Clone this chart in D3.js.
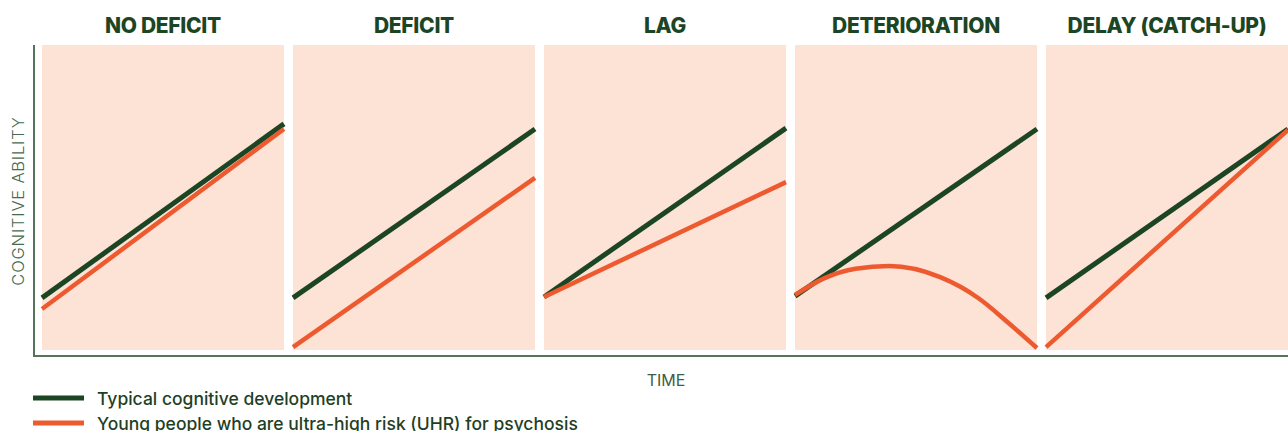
<!DOCTYPE html>
<html>
<head>
<meta charset="utf-8">
<script src="https://cdn.jsdelivr.net/npm/d3@7"></script>
<style>
  body { margin: 0; background: #fff; }
  svg { display: block; }
</style>
</head>
<body>
<svg id="chart" width="1288" height="431"></svg>
<script>
// panel titles
const panels = ["NO DEFICIT", "DEFICIT", "LAG", "DETERIORATION", "DELAY (CATCH-UP)"]

// time (0..1) and cognitive ability (0..100)
const typical = [
    [[0, 16.7], [1, 74.7]],
    [[0, 16.7], [1, 73]],
    [[0, 17], [1, 73.3]],
    [[0, 17.3], [1, 73]],
    [[0, 16.7], [1, 73]]
]
const uhr = [
    [[0, 13], [1, 73]],
    [[0, 0.3], [1, 56.7]],
    [[0, 17], [1, 55.3]],
    [[0, 17.7], [0.12, 23.2], [0.25, 26.4], [0.39, 27.3], [0.6, 23.6], [0.76, 16.5], [0.88, 8.5], [1, 0]],
    [[0, 0.3], [1, 72.7]]
]

const legendLabels = ["Typical cognitive development", "Young people who are ultra-high risk (UHR) for psychosis"]

const green = "#1b4523"
const red = "#ee5a30"
const peach = "#fde2d6"

let svg = d3.select("#chart")

let panelX = d3.scaleBand()
    .domain(panels)
    .range([42, 1288])
    .paddingInner(0.036)
    .paddingOuter(0)

let y = d3.scaleLinear().domain([0, 100]).range([348, 48])

let line = d3.line()
    .x(d => d.px)
    .y(d => y(d[1]))
    .curve(d3.curveMonotoneX)

// panel backgrounds
svg.selectAll("rect.panel")
    .data(panels)
    .enter()
    .append("rect")
    .attr("class", "panel")
    .attr("x", d => panelX(d))
    .attr("y", 45)
    .attr("width", panelX.bandwidth())
    .attr("height", 305)
    .style("fill", peach)

// titles
svg.selectAll("text.title")
    .data(panels)
    .enter()
    .append("text")
    .attr("class", "title")
    .attr("x", d => panelX(d) + panelX.bandwidth() / 2)
    .attr("y", 33)
    .attr("text-anchor", "middle")
    .style("font-family", "Inter, 'Noto Sans', sans-serif")
    .style("font-weight", 800)
    .style("font-size", "21px")
    .style("letter-spacing", "-0.3px")
    .style("fill", green)
    .text(d => d)

// lines per panel
panels.forEach(function (p, i) {
    let x = d3.scaleLinear().domain([0, 1]).range([panelX(p), panelX(p) + panelX.bandwidth()])
    let g = svg.append("g")
    let addPx = pts => pts.map(d => Object.assign([d[0], d[1]], { px: x(d[0]) }))

    g.append("path")
        .attr("d", line(addPx(typical[i])))
        .style("fill", "none")
        .style("stroke", green)
        .style("stroke-width", 5)

    g.append("path")
        .attr("d", line(addPx(uhr[i])))
        .style("fill", "none")
        .style("stroke", red)
        .style("stroke-width", 4.5)
})

// axes
svg.append("path")
    .attr("d", "M34,45 V356 H1288")
    .style("fill", "none")
    .style("stroke", "#56745a")
    .style("stroke-width", 2)

svg.append("text")
    .attr("transform", "translate(24,201) rotate(-90)")
    .attr("text-anchor", "middle")
    .style("font-family", "Inter, 'Noto Sans', sans-serif")
    .style("font-weight", 300)
    .style("font-size", "16.5px")
    .style("letter-spacing", "0.8px")
    .style("fill", "#4a6a4e")
    .text("COGNITIVE ABILITY")

svg.append("text")
    .attr("x", 666)
    .attr("y", 386)
    .attr("text-anchor", "middle")
    .style("font-family", "Inter, 'Noto Sans', sans-serif")
    .style("font-weight", 400)
    .style("font-size", "16px")
    .style("fill", "#3f5e44")
    .text("TIME")

// legend
let legend = svg.selectAll("g.legend")
    .data(legendLabels)
    .enter()
    .append("g")
    .attr("class", "legend")
    .attr("transform", (d, i) => "translate(0," + (398 + i * 25) + ")")

legend.append("line")
    .attr("x1", 33)
    .attr("x2", 84)
    .style("stroke", (d, i) => i == 0 ? green : red)
    .style("stroke-width", 5)

legend.append("text")
    .attr("x", 97)
    .attr("y", 7)
    .style("font-family", "Inter, 'Noto Sans', sans-serif")
    .style("font-weight", 500)
    .style("font-size", "17.5px")
    .style("fill", "#1f3f25")
    .text(d => d)
</script>
</body>
</html>
